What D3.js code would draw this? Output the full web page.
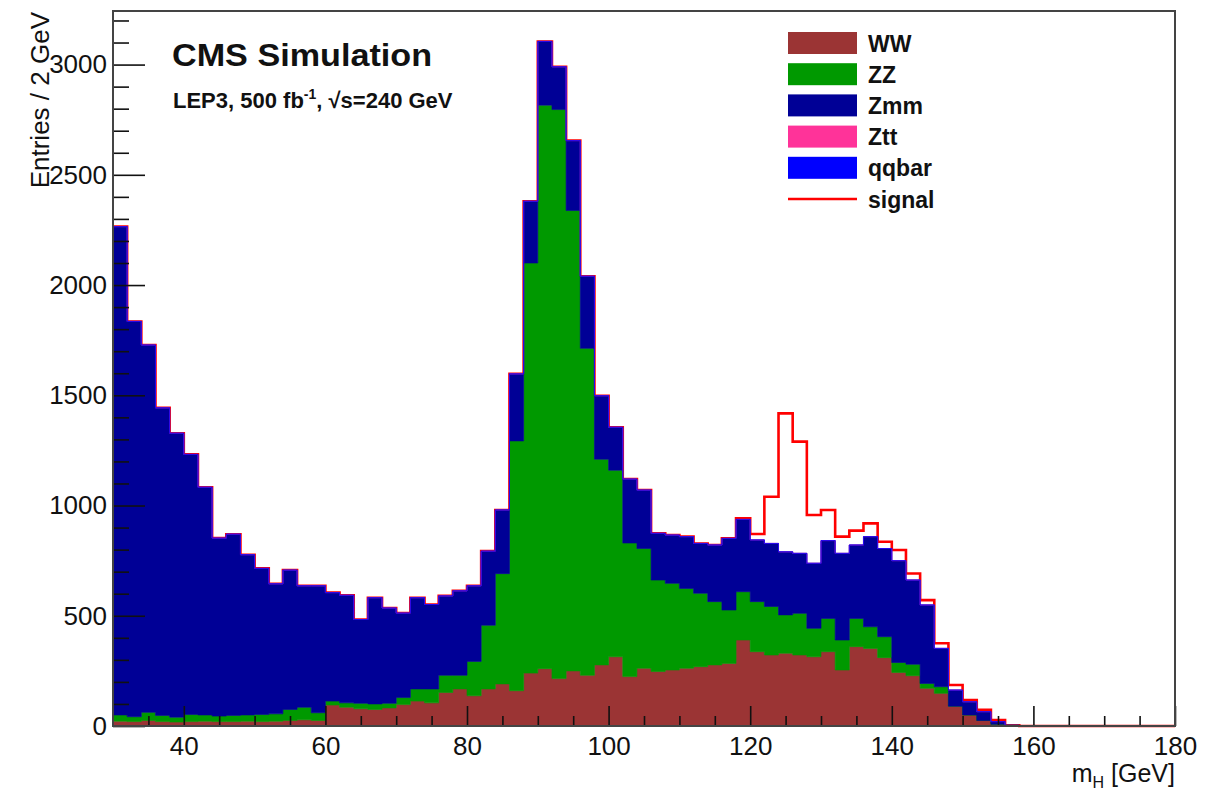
<!DOCTYPE html>
<html><head><meta charset="utf-8">
<script src="https://cdn.jsdelivr.net/npm/d3@7"></script>
<style>
body{margin:0;background:#fff;}
svg{display:block;}
text{font-family:"Liberation Sans",Arial,Helvetica,sans-serif;fill:#111;}
</style>
</head><body>
<svg id="c" width="1222" height="792"></svg>
<script>
// ---- data (2 GeV bins, lower edges) ----
const binLow = [30,32,34,36,38,40,42,44,46,48,50,52,54,56,58,60,62,64,66,68,70,72,74,76,78,
  80,82,84,86,88,90,92,94,96,98,100,102,104,106,108,110,112,114,116,118,120,122,124,126,128,
  130,132,134,136,138,140,142,144,146,148,150,152,154,156,158,160,162,164,166,168,170,172,174,176,178];
const binWidth = 2;

const WW = [22,20,25,20,18,20,22,20,20,22,20,22,25,28,25,
  95,85,78,75,82,97,113,105,152,168,137,168,191,160,
  240,260,215,250,230,277,314,224,262,247,254,262,269,277,284,
  390,337,322,330,322,314,337,254,360,352,310,243,228,171,148,90,50,25,8,3,
  0,0,0,0,0,0,0,0,0,0,0];
const ZZ = [28,22,37,28,22,32,28,25,28,28,32,33,50,57,35,
  18,20,25,25,21,32,55,63,78,62,156,289,500,1133,
  1860,2556,2581,2088,1483,933,846,606,543,415,393,362,333,287,242,
  219,227,220,174,189,129,151,136,128,98,95,45,52,22,30,0,0,0,0,0,
  0,0,0,0,0,0,0,0,0,0,0];
const Zmm = [2215,1793,1666,1395,1288,1180,1033,807,822,727,663,590,632,551,576,
  492,488,380,482,432,383,414,383,360,383,343,336,289,304,
  280,289,194,317,327,288,195,290,265,212,219,235,226,257,325,
  328,280,286,286,272,295,353,393,333,409,400,462,382,356,174,73,60,40,12,0,
  0,0,0,0,0,0,0,0,0,0,0];
const Ztt = [0,0,0,0,0,0,0,0,0,0,0,0,0,0,0,0,0,0,0,0,0,0,0,0,0,
  0,0,0,0,0,0,0,0,0,0,0,0,0,0,0,0,0,0,0,0,0,0,0,0,0,
  0,0,0,0,0,0,0,0,0,0,0,0,0,0,0,0,0,0,0,0,0,0,0,0,0];
const qqbar = [0,0,0,0,0,0,0,0,0,0,0,0,0,0,0,0,0,0,0,0,0,0,0,0,0,
  0,0,0,0,0,0,0,0,0,0,0,0,0,0,0,0,0,0,0,0,0,0,0,0,0,
  0,0,0,0,0,0,0,0,0,0,0,0,0,0,0,0,0,0,0,0,0,0,0,0,0];
const signal = [0,0,0,0,0,0,0,0,0,0,0,0,0,0,0,0,0,0,0,0,0,0,0,0,0,
  0,0,0,0,0,0,0,0,0,0,0,0,0,0,0,0,0,0,0,
  5,27,212,628,507,219,139,76,65,60,31,48,30,22,23,23,8,8,7,
  0,0,0,0,0,0,0,0,0,0,0,0];

const seriesNames = ["WW","ZZ","Zmm","Ztt","qqbar"];
const seriesColors = ["#9b3434","#009900","#000096","#ff3399","#0000ff"];
const seriesData = {WW, ZZ, Zmm, Ztt, qqbar};
const signalColor = "#ff0000";

const xTickValues = [40,60,80,100,120,140,160,180];
const yTickValues = [0,500,1000,1500,2000,2500,3000];
const xDomain = [30,180];
const yDomain = [0,3243];

// ---- layout ----
const L=113, R=1175, T=11, B=726;
const svg = d3.select("#c");
const x = d3.scaleLinear().domain(xDomain).range([L,R]);
const y = d3.scaleLinear().domain(yDomain).range([B,T]);

const rows = binLow.map((b,i)=>{
  const r = {lo:b};
  seriesNames.forEach(k=>r[k]=seriesData[k][i]);
  return r;
});
const stacked = d3.stack().keys(seriesNames)(rows);

// signal on top of stack, drawn as outline (behind the stack)
const totals = rows.map((r,i)=>d3.sum(seriesNames,k=>r[k]) + signal[i]);
const sigPts = totals.map((v,i)=>({x:binLow[i], v}));
sigPts.push({x:binLow[binLow.length-1]+binWidth, v:totals[totals.length-1]});
const line = d3.line().curve(d3.curveStepAfter).x(d=>x(d.x)).y(d=>y(d.v));
svg.append("path").attr("d", line(sigPts))
  .attr("fill","none").attr("stroke",signalColor).attr("stroke-width",2.6);

function stepPts(arr){ // append closing point at upper edge of last bin
  const pts = arr.map((d,i)=>({x:binLow[i], y0:d[0], y1:d[1]}));
  const last = pts[pts.length-1];
  pts.push({x:last.x+binWidth, y0:last.y0, y1:last.y1});
  return pts;
}
const area = d3.area().curve(d3.curveStepAfter)
  .x(d=>x(d.x)).y0(d=>y(d.y0)).y1(d=>y(d.y1));

const gBars = svg.append("g");
stacked.forEach((s,si)=>{
  gBars.append("path")
    .attr("d", area(stepPts(s)))
    .attr("fill", seriesColors[si])
    .attr("stroke", seriesColors[si])
    .attr("stroke-width", 0.6);
});

// ---- axes ----
svg.append("g").attr("transform",`translate(${L},0)`)
  .call(d3.axisLeft(y).tickValues(yTickValues).tickSize(-32).tickPadding(6).tickFormat(d3.format("d")));
const yMinor = d3.range(0, yDomain[1], 100).filter(v=>v%500!==0);
svg.append("g").attr("transform",`translate(${L},0)`)
  .call(d3.axisLeft(y).tickValues(yMinor).tickSize(-16).tickFormat(""));
svg.append("g").attr("transform",`translate(0,${B})`)
  .call(d3.axisBottom(x).tickValues(xTickValues).tickSize(-20).tickPadding(11).tickFormat(d3.format("d")));
const xMinor = d3.range(35, 180, 5).filter(v=>v%20!==0);
svg.append("g").attr("transform",`translate(0,${B})`)
  .call(d3.axisBottom(x).tickValues(xMinor).tickSize(-10).tickFormat(""));
svg.selectAll(".domain").remove();
svg.selectAll(".tick line").attr("stroke","#111").attr("stroke-width",1.6);
svg.selectAll(".tick text").attr("font-size",26).attr("fill","#222")
  .style("font-family",'"Liberation Sans",Arial,sans-serif');

// frame
svg.append("rect").attr("x",L).attr("y",T).attr("width",R-L).attr("height",B-T)
  .attr("fill","none").attr("stroke","#444").attr("stroke-width",2);

// axis titles
svg.append("text").attr("transform",`translate(49,${T+1}) rotate(-90)`)
  .attr("text-anchor","end").attr("font-size",26).attr("fill","#222")
  .text("Entries / 2 GeV");
const xt = svg.append("text").attr("x",R).attr("y",782).attr("text-anchor","end")
  .attr("font-size",25).attr("fill","#222");
xt.append("tspan").text("m");
xt.append("tspan").attr("font-size",16).attr("dy",6).text("H");
xt.append("tspan").attr("dy",-6).text(" [GeV]");

// CMS labels
svg.append("text").attr("x",172).attr("y",66).attr("font-size",31).attr("font-weight","bold")
  .attr("textLength",260).attr("lengthAdjust","spacingAndGlyphs").text("CMS Simulation");
const lep = svg.append("text").attr("x",173).attr("y",108).attr("font-size",22).attr("font-weight","bold");
lep.append("tspan").text("LEP3, 500 fb");
lep.append("tspan").attr("font-size",14).attr("dy",-9).text("-1");
lep.append("tspan").attr("dy",9).text(",  \u221As=240 GeV");

// legend
const legNames = seriesNames.concat(["signal"]);
const legY0 = 43, legDy = 31.2;
const lg = svg.append("g");
legNames.forEach((n,i)=>{
  const cy = legY0 + i*legDy;
  if(i < seriesNames.length){
    lg.append("rect").attr("x",788).attr("y",cy-11).attr("width",69).attr("height",22)
      .attr("fill",seriesColors[i]);
  } else {
    lg.append("line").attr("x1",788).attr("x2",857).attr("y1",cy).attr("y2",cy)
      .attr("stroke",signalColor).attr("stroke-width",2.4);
  }
  lg.append("text").attr("x",868).attr("y",cy+8.5).attr("font-size",23).attr("font-weight","bold")
    .attr("fill","#1a1a1a").text(n);
});
</script>
</body></html>
